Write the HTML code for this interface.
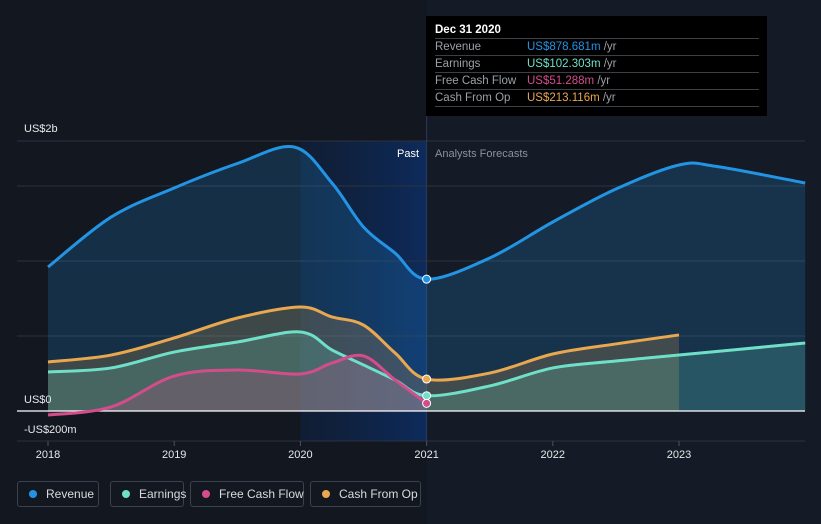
<!DOCTYPE html>
<html><head><meta charset="utf-8">
<style>
body{margin:0;background:#151b26;font-family:"Liberation Sans",sans-serif;}
#wrap{position:relative;width:821px;height:524px;overflow:hidden;background:#151b26;}
.leg{position:absolute;top:481px;height:26px;border:1px solid #3a4150;border-radius:3px;color:#d8dbe0;font-size:12px;line-height:24px;box-sizing:border-box;padding-left:28px;white-space:nowrap;}
.leg i{position:absolute;left:11px;top:8px;width:8px;height:8px;border-radius:50%;}
</style></head><body>
<div id="wrap">
<svg id="svg" width="821" height="524" style="position:absolute;left:0;top:0"></svg>
<div style="position:absolute;left:426px;top:16px;width:341px;height:100px;background:#000;">
 <div style="position:absolute;left:9px;top:8px;color:#fff;font-size:11.5px;font-weight:bold">Dec 31 2020</div>
 <div id="tt"></div>
</div>
<div class="leg" style="left:17px;width:82px"><i style="background:#2394e3"></i>Revenue</div>
<div class="leg" style="left:110px;width:74px"><i style="background:#6fe0c8"></i>Earnings</div>
<div class="leg" style="left:190px;width:114px"><i style="background:#d44d8b"></i>Free Cash Flow</div>
<div class="leg" style="left:310px;width:111px"><i style="background:#e9a84f"></i>Cash From Op</div>
</div>
<script>
const revT=[2018,2018.5,2019,2019.5,2019.95,2020.25,2020.5,2020.75,2021,2021.5,2022,2022.5,2023,2023.3,2024];
const revV=[960,1293,1487,1650,1760,1520,1227,1053,879,1020,1260,1480,1640,1630,1520];
const earnT=[2018,2018.5,2019,2019.5,2020,2020.25,2020.5,2020.75,2021,2021.5,2022,2022.5,2023,2024];
const earnV=[260,287,393,460,527,407,307,207,102,167,287,333,373,453];
const fcfT=[2018,2018.5,2019,2019.5,2020,2020.25,2020.5,2020.75,2021];
const fcfV=[-27,27,233,273,247,320,367,207,51];
const cfoT=[2018,2018.5,2019,2019.5,2020,2020.25,2020.5,2020.75,2021,2021.5,2022,2022.5,2023];
const cfoV=[327,373,487,620,693,627,573,387,213,253,380,447,507];
const yTicks=[1500,1000,500];
const xTicks=[2018,2019,2020,2021,2022,2023];
const ttLabels=["Revenue","Earnings","Free Cash Flow","Cash From Op"];
const ttValues=["US$878.681m","US$102.303m","US$51.288m","US$213.116m"];
const ttColors=["#2394e3","#6fe0c8","#d44d8b","#e9a84f"];

const X=t=>48+(t-2018)*126.2;
const Y=v=>411-v*0.15;
const NS="http://www.w3.org/2000/svg";
const svg=document.getElementById('svg');
function mk(tag,a,p){const e=document.createElementNS(NS,tag);for(const k in a)e.setAttribute(k,a[k]);(p||svg).appendChild(e);return e;}
function path(T,V){const p=T.map((t,i)=>[X(t),Y(V[i])]);let d="M"+p[0];for(let i=0;i<p.length-1;i++){const p0=p[i-1]||p[i],p1=p[i],p2=p[i+1],p3=p[i+2]||p2;const c1=[p1[0]+(p2[0]-p0[0])/6,p1[1]+(p2[1]-p0[1])/6],c2=[p2[0]-(p3[0]-p1[0])/6,p2[1]-(p3[1]-p1[1])/6];d+="C"+c1+" "+c2+" "+p2;}return d;}
const defs=mk('defs',{});
defs.innerHTML='<linearGradient id="pg" x1="0" x2="1"><stop offset="0" stop-color="#0f2346" stop-opacity="0.5"/><stop offset="1" stop-color="#0d2b5c"/></linearGradient>';
let r=mk('rect',{x:0,y:0,width:X(2021),height:524,fill:'#121720'});

r=mk('rect',{x:X(2020),y:141,width:X(2021)-X(2020),height:300,fill:'url(#pg)'});

[1800,...yTicks].forEach(v=>{const l=mk('line',{x1:17,x2:805,y1:Y(v),y2:Y(v),stroke:'#2c3340','stroke-width':1});});
let l=mk('line',{x1:17,x2:805,y1:441,y2:441,stroke:'#2c3340'});
l=mk('line',{x1:X(2021),x2:X(2021),y1:16,y2:441,stroke:'#2a3a5a'});
const series=[[revT,revV,'#2394e3',0.2,'revenue'],[cfoT,cfoV,'#e9a84f',0.2,'cash-from-op'],[earnT,earnV,'#6fe0c8',0.2,'earnings'],[fcfT,fcfV,'#d44d8b',0.2,'free-cash-flow']];
series.forEach(s=>{const d=path(s[0],s[1]);const a=mk('path',{d:d+"L"+X(s[0][s[0].length-1])+","+Y(0)+"L"+X(s[0][0])+","+Y(0)+"Z",fill:s[2],'fill-opacity':s[3]});});
l=mk('line',{x1:17,x2:805,y1:Y(0),y2:Y(0),stroke:'#fff','stroke-width':1.2});
series.forEach(s=>{const p=mk('path',{d:path(s[0],s[1]),fill:'none',stroke:s[2],'stroke-width':3});});
series.forEach(s=>{const i=s[0].indexOf(2021);const c=mk('circle',{cx:X(2021),cy:Y(s[1][i]),r:4,fill:s[2],stroke:'#fff','stroke-width':1});});
function txt(x,y,s,o){const t=mk('text',Object.assign({x:x,y:y,fill:'#e6e8eb','font-size':11,'font-family':'Liberation Sans'},o||{}));t.textContent=s;return t;}
let t=txt(24,132,'US$2b');
t=txt(24,403,'US$0');
t=txt(24,433,'-US$200m');
t=txt(419,157,'Past',{'text-anchor':'end',fill:'#fff'});
t=txt(435,157,'Analysts Forecasts',{fill:'#8c929c'});
xTicks.forEach(y=>{const k=mk('line',{x1:X(y),x2:X(y),y1:441,y2:446,stroke:'#4a5160'});const tt=txt(X(y),458,String(y),{'text-anchor':'middle'});});
const tt=document.getElementById('tt');
ttLabels.forEach((lab,i)=>{const row=document.createElement('div');row.style.cssText='position:absolute;left:9px;width:324px;top:'+(22+i*17)+'px;height:17px;border-top:1px solid #3a3f48;font-size:11.5px;line-height:17px;color:#9ba0a8;white-space:nowrap';


row.innerHTML='<span>'+lab+'</span><span style="position:absolute;left:92px"><span style="color:'+ttColors[i]+'">'+ttValues[i]+'</span> /yr</span>';tt.appendChild(row);});
const b=document.createElement('div');b.style.cssText='position:absolute;left:9px;width:324px;top:90px;border-top:1px solid #3a3f48';tt.appendChild(b);
</script>
</body></html>
